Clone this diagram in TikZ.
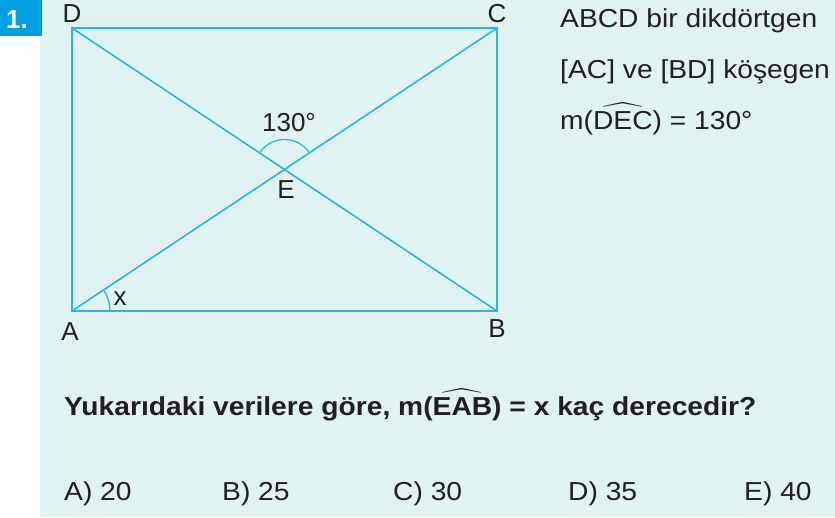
\documentclass[tikz,border=0pt]{standalone}
\usepackage{amsmath}
\usepackage{fontspec}
\setmainfont{Liberation Sans}
\usetikzlibrary{angles}
\definecolor{mintbg}{RGB}{225,242,243}
\definecolor{lineblue}{RGB}{41,182,236}
\definecolor{badgeblue}{RGB}{0,160,227}
\definecolor{inkgray}{RGB}{35,31,32}

\begin{document}
\begin{tikzpicture}[x=1pt,y=-1pt,
  lbl/.style={text=inkgray,font=\fontsize{26}{30}\selectfont,inner sep=0pt},
  side/.style={lbl,anchor=base west,xscale=1.085},
  edge/.style={draw=lineblue,line width=1.6pt},
  arcline/.style={draw=lineblue,line width=1.3pt}]
\useasboundingbox (0,0) rectangle (835,517);

%Shape: Rectangle [background]
\fill [mintbg] (40,0) rectangle (835,517);
%Shape: Rectangle [badge]
\fill [badgeblue] (0,0) rectangle (42,36);
% Text Node
\node (num) [anchor=base west,text=white,inner sep=0pt,font=\bfseries\fontsize{26}{30}\selectfont] at (6,28) {1.};

%Points
\coordinate (A) at (72,311);
\coordinate (B) at (497,311);
\coordinate (C) at (497,28);
\coordinate (D) at (72,28);

%Straight Lines
\draw [edge] (A) -- (B) -- (C) -- (D) -- cycle;
\draw [edge] (A) -- (C);
\draw [edge] (B) -- (D);
\coordinate (E) at (intersection of A--C and B--D);

%Arcs
\pic [arcline,angle radius=30pt] {angle=C--E--D};
\pic [arcline,angle radius=38pt] {angle=B--A--E};

% Text Node
\node (labD) [lbl] at (72,14) {D};
\node (labC) [lbl] at (497,14) {C};
\node (labA) [lbl] at (70,332) {A};
\node (labB) [lbl] at (497,329) {B};
\node (labE) [lbl] at (286,190) {E};
\node (ang) [lbl] at (289,123) {130°};
\node (labx) [lbl] at (120,299) {x};

% Text Node
\node (given1) [side] at (560,27) {ABCD bir dikdörtgen};
\node (given2) [side] at (560,78) {[AC] ve [BD] köşegen};
\node (given3) [side] at (560,129) {m($\widehat{\text{DEC}}$) = 130°};

% Text Node
\node (quest) [side,font=\bfseries\fontsize{26}{30}\selectfont] at (64,415) {Yukarıdaki verilere göre, m($\widehat{\text{EAB}}$) = x kaç derecedir?};

% Text Node
\node (optA) [side] at (64,500) {A) 20};
\node (optB) [side] at (222,500) {B) 25};
\node (optC) [side] at (393,500) {C) 30};
\node (optD) [side] at (568,500) {D) 35};
\node (optE) [side] at (744,500) {E) 40};
\end{tikzpicture}
\end{document}
